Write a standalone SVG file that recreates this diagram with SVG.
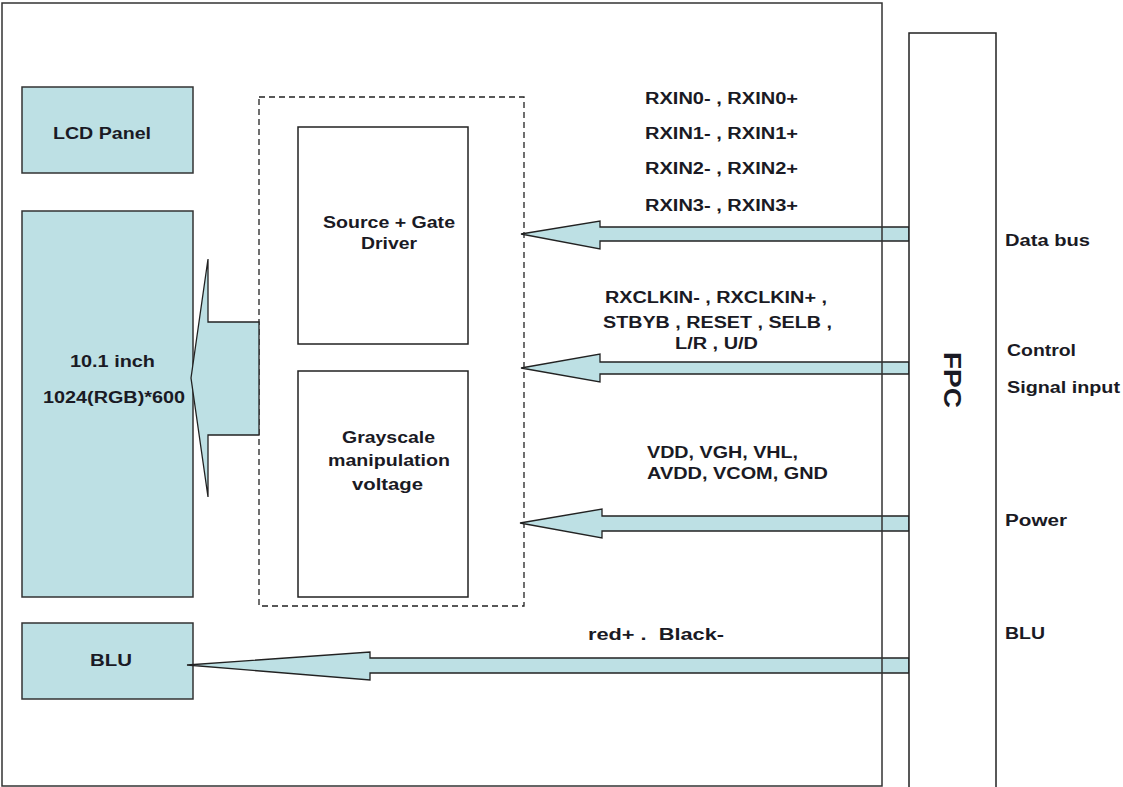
<svg xmlns="http://www.w3.org/2000/svg" width="1123" height="787" viewBox="0 0 1123 787">
<style>
.box{fill:#bde0e4;stroke:#333;stroke-width:1.5}
.wbox{fill:#fff;stroke:#222;stroke-width:1.5}
.frame{fill:none;stroke:#333;stroke-width:1.5}
.dash{fill:none;stroke:#222;stroke-width:1.3;stroke-dasharray:6 4}
.arrow{fill:#bde0e4;stroke:#222;stroke-width:1.3;stroke-linejoin:miter}
text{font-family:"Liberation Sans",Arial,sans-serif;font-weight:bold;font-size:16px;fill:#1a1a24}
</style>
<rect x="0" y="0" width="1123" height="787" fill="#fff"/>
<g id="lcd-panel-label"><rect class="box" x="22" y="87" width="171" height="86"/><text x="53" y="139" textLength="98" lengthAdjust="spacingAndGlyphs">LCD Panel</text></g>
<g id="panel"><rect class="box" x="22" y="211" width="171" height="386"/><text x="70" y="367" textLength="85" lengthAdjust="spacingAndGlyphs">10.1 inch</text><text x="43" y="403" textLength="142" lengthAdjust="spacingAndGlyphs">1024(RGB)*600</text></g>
<g id="blu-box"><rect class="box" x="22" y="623" width="171" height="76"/><text x="90" y="666" textLength="42" lengthAdjust="spacingAndGlyphs">BLU</text></g>
<g id="driver-group"><rect class="dash" x="259" y="97" width="265" height="509"/></g>
<g id="source-gate"><rect class="wbox" x="298" y="127" width="170" height="217"/><text x="323" y="228" textLength="132" lengthAdjust="spacingAndGlyphs">Source + Gate</text><text x="361" y="249" textLength="56" lengthAdjust="spacingAndGlyphs">Driver</text></g>
<g id="grayscale"><rect class="wbox" x="298" y="371" width="170" height="226"/><text x="342" y="443" textLength="93" lengthAdjust="spacingAndGlyphs">Grayscale</text><text x="328" y="466" textLength="122" lengthAdjust="spacingAndGlyphs">manipulation</text><text x="352" y="490" textLength="71" lengthAdjust="spacingAndGlyphs">voltage</text></g>
<g id="connectors">
<polygon class="arrow" points="191,378 208,259 208,322 259,322 259,435 208,435 208,497"/>
<polygon class="arrow" points="521,234 600,221 600,227 909,227 909,241 600,241 600,249"/>
<polygon class="arrow" points="521,368 600,354 600,362 909,362 909,374 600,374 600,382"/>
<polygon class="arrow" points="520,523 602,509 602,516 909,516 909,531 602,531 602,538"/>
<polygon class="arrow" points="187,665 370,652 370,658 909,658 909,673 370,673 370,680"/>
</g>
<g id="frame"><rect class="frame" x="2" y="3" width="880" height="783"/></g>
<g id="fpc"><rect class="wbox" x="909" y="33" width="87" height="760"/><text transform="translate(944,352) rotate(90)" x="0" y="0" style="font-size:23px" textLength="56" lengthAdjust="spacingAndGlyphs">FPC</text></g>
<g id="labels">
<text x="645" y="104" textLength="153" lengthAdjust="spacingAndGlyphs">RXIN0- , RXIN0+</text>
<text x="645" y="139" textLength="153" lengthAdjust="spacingAndGlyphs">RXIN1- , RXIN1+</text>
<text x="645" y="174" textLength="153" lengthAdjust="spacingAndGlyphs">RXIN2- , RXIN2+</text>
<text x="645" y="211" textLength="153" lengthAdjust="spacingAndGlyphs">RXIN3- , RXIN3+</text>
<text x="605" y="303" textLength="222" lengthAdjust="spacingAndGlyphs">RXCLKIN- , RXCLKIN+ ,</text>
<text x="603" y="328" textLength="229" lengthAdjust="spacingAndGlyphs">STBYB , RESET , SELB ,</text>
<text x="675" y="349" textLength="83" lengthAdjust="spacingAndGlyphs">L/R , U/D</text>
<text x="647" y="458" textLength="151" lengthAdjust="spacingAndGlyphs">VDD, VGH, VHL,</text>
<text x="647" y="479" textLength="181" lengthAdjust="spacingAndGlyphs">AVDD, VCOM, GND</text>
<text x="588" y="640" textLength="136" lengthAdjust="spacingAndGlyphs" xml:space="preserve">red+ .  Black-</text>
<text x="1005" y="246" textLength="85" lengthAdjust="spacingAndGlyphs">Data bus</text>
<text x="1007" y="356" textLength="69" lengthAdjust="spacingAndGlyphs">Control</text>
<text x="1007" y="393" textLength="113" lengthAdjust="spacingAndGlyphs">Signal input</text>
<text x="1005" y="526" textLength="62" lengthAdjust="spacingAndGlyphs">Power</text>
<text x="1005" y="639" textLength="40" lengthAdjust="spacingAndGlyphs">BLU</text>
</g>
</svg>
